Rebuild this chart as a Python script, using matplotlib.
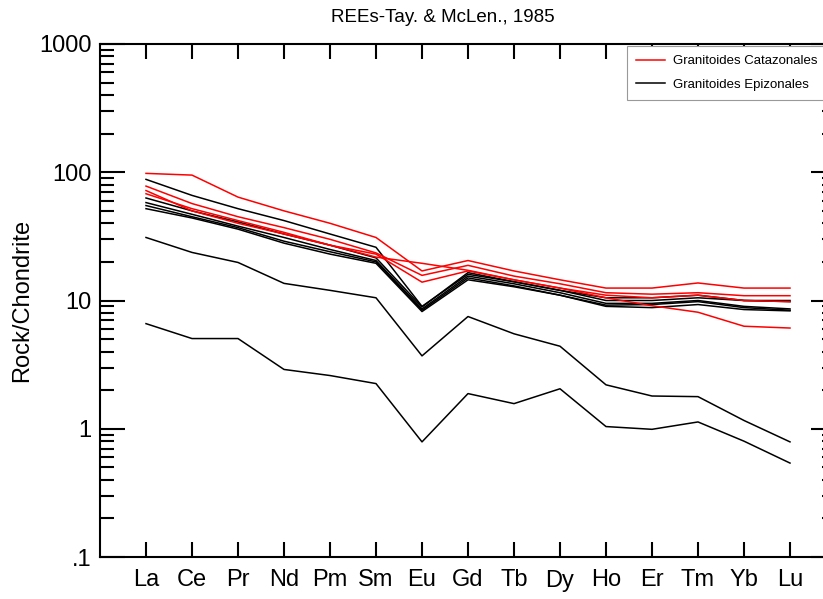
import matplotlib
matplotlib.use("Agg")
import matplotlib.pyplot as plt
from matplotlib.ticker import FixedLocator, LogLocator, NullFormatter

# Elementos de tierras raras (eje x)
elementos = ['La', 'Ce', 'Pr', 'Nd', 'Pm', 'Sm', 'Eu', 'Gd', 'Tb', 'Dy', 'Ho', 'Er', 'Tm', 'Yb', 'Lu']

# Granitoides Catazonales (rojo) - valores normalizados a condrito
cataz_1 = [98, 95, 64, 50, 40, 31, 17, 20.5, 17, 14.5, 12.5, 12.5, 13.7, 12.5, 12.5]
cataz_2 = [78, 57, 45, 37, 30, 23.5, 15.7, 18.8, 15.5, 13.5, 11.5, 11.2, 11.5, 10.9, 10.9]
cataz_3 = [68, 52, 42, 34, 27, 21.8, 19.5, 17.2, 14.5, 12.5, 10.5, 9.1, 8.1, 6.3, 6.1]
cataz_4 = [72, 50, 40, 33, 27, 23, 13.9, 17, 14.5, 12.5, 11, 10.5, 11, 10, 9.8]

# Granitoides Epizonales (negro)
epiz_1 = [88, 66, 52, 42, 33, 26, 9, 16, 14, 12, 10, 10, 10.5, 10, 10]
epiz_2 = [63, 50, 41, 33, 27, 21.5, 8.9, 16.5, 14, 12, 10.5, 10.5, 11, 10, 9.8]
epiz_3 = [58, 47, 38, 31, 25, 20.5, 8.6, 15.5, 13.5, 11.5, 9.5, 9.5, 10, 9, 8.6]
epiz_4 = [55, 45, 37, 29, 24, 20, 8.4, 15, 13, 11, 9.2, 9.3, 9.8, 8.8, 8.4]
epiz_5 = [52, 44, 36, 28, 23, 19.5, 8.2, 14.5, 12.8, 11, 9, 8.8, 9.3, 8.5, 8.3]
epiz_6 = [31, 23.7, 19.8, 13.6, 12, 10.5, 3.7, 7.5, 5.5, 4.4, 2.2, 1.8, 1.78, 1.16, 0.79]
epiz_7 = [6.6, 5.05, 5.05, 2.9, 2.6, 2.25, 0.79, 1.88, 1.57, 2.05, 1.04, 0.99, 1.13, 0.8, 0.54]

cataz = [cataz_1, cataz_2, cataz_3, cataz_4]
epiz = [epiz_1, epiz_2, epiz_3, epiz_4, epiz_5, epiz_6, epiz_7]

y_ticks = [0.1, 1, 10, 100, 1000]
y_ticklabels = ['.1', '1', '10', '100', '1000']

plt.rcParams['font.family'] = ['Liberation Sans', 'DejaVu Sans']

fig = plt.figure(figsize=(8.23, 5.99), dpi=100)
ax = fig.add_axes([100 / 823, 42 / 599, 736 / 823, 513 / 599])

x = list(range(1, len(elementos) + 1))

for i, serie in enumerate(epiz):
    ax.plot(x, serie, color='black', linewidth=1.1,
            label='Granitoides Epizonales' if i == 0 else None)
for i, serie in enumerate(cataz):
    ax.plot(x, serie, color='red', linewidth=1.1,
            label='Granitoides Catazonales' if i == 0 else None)

ax.set_yscale('log')
ax.set_ylim(0.1, 1000)
ax.set_xlim(0, 16)

ax.yaxis.set_major_locator(FixedLocator(y_ticks))
ax.set_yticklabels(y_ticklabels)
ax.yaxis.set_minor_locator(LogLocator(base=10, subs=range(2, 10)))
ax.yaxis.set_minor_formatter(NullFormatter())

ax.set_xticks(x)
ax.set_xticklabels(elementos)

ax.tick_params(axis='both', which='major', direction='in', top=True, right=True,
               labelsize=17, width=1.5)
ax.tick_params(axis='y', which='major', length=18, pad=6)
ax.tick_params(axis='y', which='minor', direction='in', right=True, length=10, width=1.5)
ax.tick_params(axis='x', which='major', length=11, pad=9)

for s in ax.spines.values():
    s.set_linewidth(1.5)

ax.set_ylabel('Rock/Chondrite', fontsize=17, labelpad=4)
fig.text(443 / 823, 1 - 18 / 599, 'REEs-Tay. & McLen., 1985', fontsize=13.5,
         ha='center', va='center')

handles, labels = ax.get_legend_handles_labels()
leg = ax.legend(handles[::-1], labels[::-1], loc='upper left',
                bbox_to_anchor=(627 / 823, 1 - 46 / 599), bbox_transform=fig.transFigure,
                fontsize=9.5, frameon=True, fancybox=False, framealpha=1,
                edgecolor='#999999', borderaxespad=0, handlelength=2.2,
                handletextpad=0.55, borderpad=0.7, labelspacing=0.85)
leg.get_frame().set_linewidth(0.8)

fig.savefig('out.png', dpi=100)
